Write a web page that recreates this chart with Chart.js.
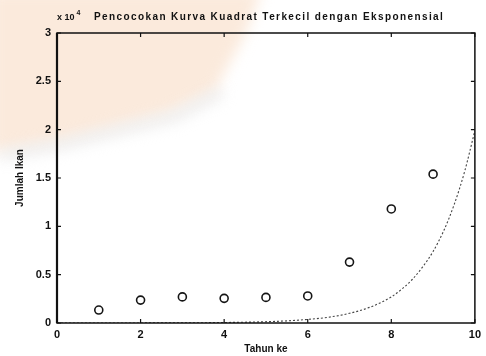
<!DOCTYPE html>
<html><head><meta charset="utf-8">
<script src="https://cdn.jsdelivr.net/npm/chart.js@4/dist/chart.umd.min.js"></script>
<style>html,body{margin:0;padding:0;background:#fff}#wrap{width:486px;height:356px}</style>
</head><body><div id="wrap"><canvas id="c" width="486" height="356"></canvas></div>
<script>
const titleText = "Pencocokan Kurva Kuadrat Terkecil dengan Eksponensial";
const xTitle = "Tahun ke";
const yTitle = "Jumlah Ikan";
const exponentBase = "x 10";
const exponentPower = "4";
const years = [1, 2, 3, 4, 5, 6, 7, 8, 9];
const fishCounts = [1340, 2370, 2700, 2550, 2650, 2800, 6300, 11800, 15400];
const fitYears = [0, 1, 2, 3, 4, 5, 5.5, 6, 6.5, 7, 7.5, 8, 8.25, 8.5, 8.75, 9, 9.25, 9.5, 9.75, 10];
const fitCounts = [1, 2, 7, 18, 50, 134, 220, 370, 600, 1000, 1650, 2700, 3500, 4500, 5800, 7400, 9500, 12200, 15600, 19900];
const xTicks = [0, 2, 4, 6, 8, 10];
const yTicks = [0, 5000, 10000, 15000, 20000, 25000, 30000];
const yScaleFactor = 10000;

const FONT = "'Liberation Sans', Arial, sans-serif";

const backdrop = {
  id: 'backdrop',
  beforeDraw(chart) {
    const ctx = chart.ctx;
    ctx.save();
    ctx.fillStyle = '#fff';
    ctx.fillRect(0, 0, chart.width, chart.height);
    ctx.filter = 'blur(7px)';
    ctx.fillStyle = 'rgba(249,225,205,0.7)';
    ctx.beginPath();
    ctx.moveTo(-10, -10); ctx.lineTo(262, -10); ctx.lineTo(245, 35); ctx.lineTo(215, 90);
    ctx.lineTo(170, 112); ctx.lineTo(60, 140); ctx.lineTo(-10, 152); ctx.closePath();
    ctx.fill();
    ctx.strokeStyle = 'rgba(225,225,225,0.6)';
    ctx.lineWidth = 10;
    ctx.beginPath();
    ctx.moveTo(0, 156); ctx.lineTo(60, 145); ctx.lineTo(175, 117); ctx.lineTo(222, 92);
    ctx.stroke();
    ctx.restore();
  }
};

const frame = {
  id: 'frame',
  afterDraw(chart) {
    const ctx = chart.ctx;
    const a = chart.chartArea;
    const xs = chart.scales.x, ys = chart.scales.y;
    ctx.save();
    ctx.strokeStyle = '#111';
    ctx.lineWidth = 1.5;
    ctx.strokeRect(a.left, a.top, a.right - a.left, a.bottom - a.top);
    ctx.lineWidth = 2.2;
    ctx.beginPath(); ctx.moveTo(a.left, a.top); ctx.lineTo(a.left, a.bottom); ctx.stroke();
    ctx.lineWidth = 1.2;
    const tl = 4;
    ctx.beginPath();
    xTicks.forEach(v => {
      const px = xs.getPixelForValue(v);
      ctx.moveTo(px, a.bottom); ctx.lineTo(px, a.bottom - tl);
      ctx.moveTo(px, a.top); ctx.lineTo(px, a.top + tl);
    });
    yTicks.forEach(v => {
      const py = ys.getPixelForValue(v);
      ctx.moveTo(a.left, py); ctx.lineTo(a.left + tl, py);
      ctx.moveTo(a.right, py); ctx.lineTo(a.right - tl, py);
    });
    ctx.stroke();
    // title and exponent
    ctx.fillStyle = '#111';
    ctx.textBaseline = 'alphabetic';
    ctx.textAlign = 'left';
    ctx.font = "bold 9px " + FONT;
    ctx.fillText(exponentBase, a.left, 20);
    const w = ctx.measureText(exponentBase).width;
    ctx.font = "bold 7px " + FONT;
    ctx.fillText(exponentPower, a.left + w + 2, 15);
    ctx.font = "bold 10px " + FONT;
    ctx.letterSpacing = '1.4px';
    ctx.fillText(titleText, 94, 20);
    ctx.restore();
  }
};

new Chart(document.getElementById('c'), {
  type: 'scatter',
  data: {
    datasets: [
      {
        label: 'data',
        data: years.map((x, i) => ({x: x, y: fishCounts[i]})),
        showLine: false,
        pointStyle: 'circle',
        pointRadius: 4,
        borderWidth: 1.6,
        borderColor: '#151515',
        backgroundColor: 'rgba(0,0,0,0)'
      },
      {
        label: 'fit',
        data: fitYears.map((x, i) => ({x: x, y: fitCounts[i]})),
        showLine: true,
        pointRadius: 0,
        borderWidth: 1.1,
        borderColor: '#444',
        borderDash: [2, 2],
        tension: 0.3,
        cubicInterpolationMode: 'monotone',
        fill: false
      }
    ]
  },
  options: {
    responsive: false,
    animation: false,
    devicePixelRatio: 1,
    layout: { padding: { top: 33, right: 3, left: 0, bottom: 0 } },
    plugins: { legend: { display: false }, tooltip: { enabled: false }, title: { display: false } },
    scales: {
      x: {
        type: 'linear', min: 0, max: 10,
        afterBuildTicks: s => { s.ticks = xTicks.map(v => ({value: v})); },
        afterFit: s => { s.height = 33; },
        grid: { display: false, drawTicks: false },
        border: { display: false },
        ticks: { color: '#111', font: { family: FONT, size: 11, weight: 'bold' }, padding: 5, maxRotation: 0 },
        title: { display: true, text: xTitle, color: '#111', font: { family: FONT, size: 10, weight: 'bold' }, padding: { top: 0, bottom: 1 } }
      },
      y: {
        type: 'linear', min: 0, max: 30000,
        afterBuildTicks: s => { s.ticks = yTicks.map(v => ({value: v})); },
        afterFit: s => { s.width = 57; },
        grid: { display: false, drawTicks: false },
        border: { display: false },
        ticks: { color: '#111', font: { family: FONT, size: 11, weight: 'bold' }, padding: 6,
                 callback: v => String(v / yScaleFactor) },
        title: { display: true, text: yTitle, color: '#111', font: { family: FONT, size: 10, weight: 'bold' }, padding: { top: 14, bottom: 0 } }
      }
    }
  },
  plugins: [backdrop, frame]
});
</script>
</body></html>
